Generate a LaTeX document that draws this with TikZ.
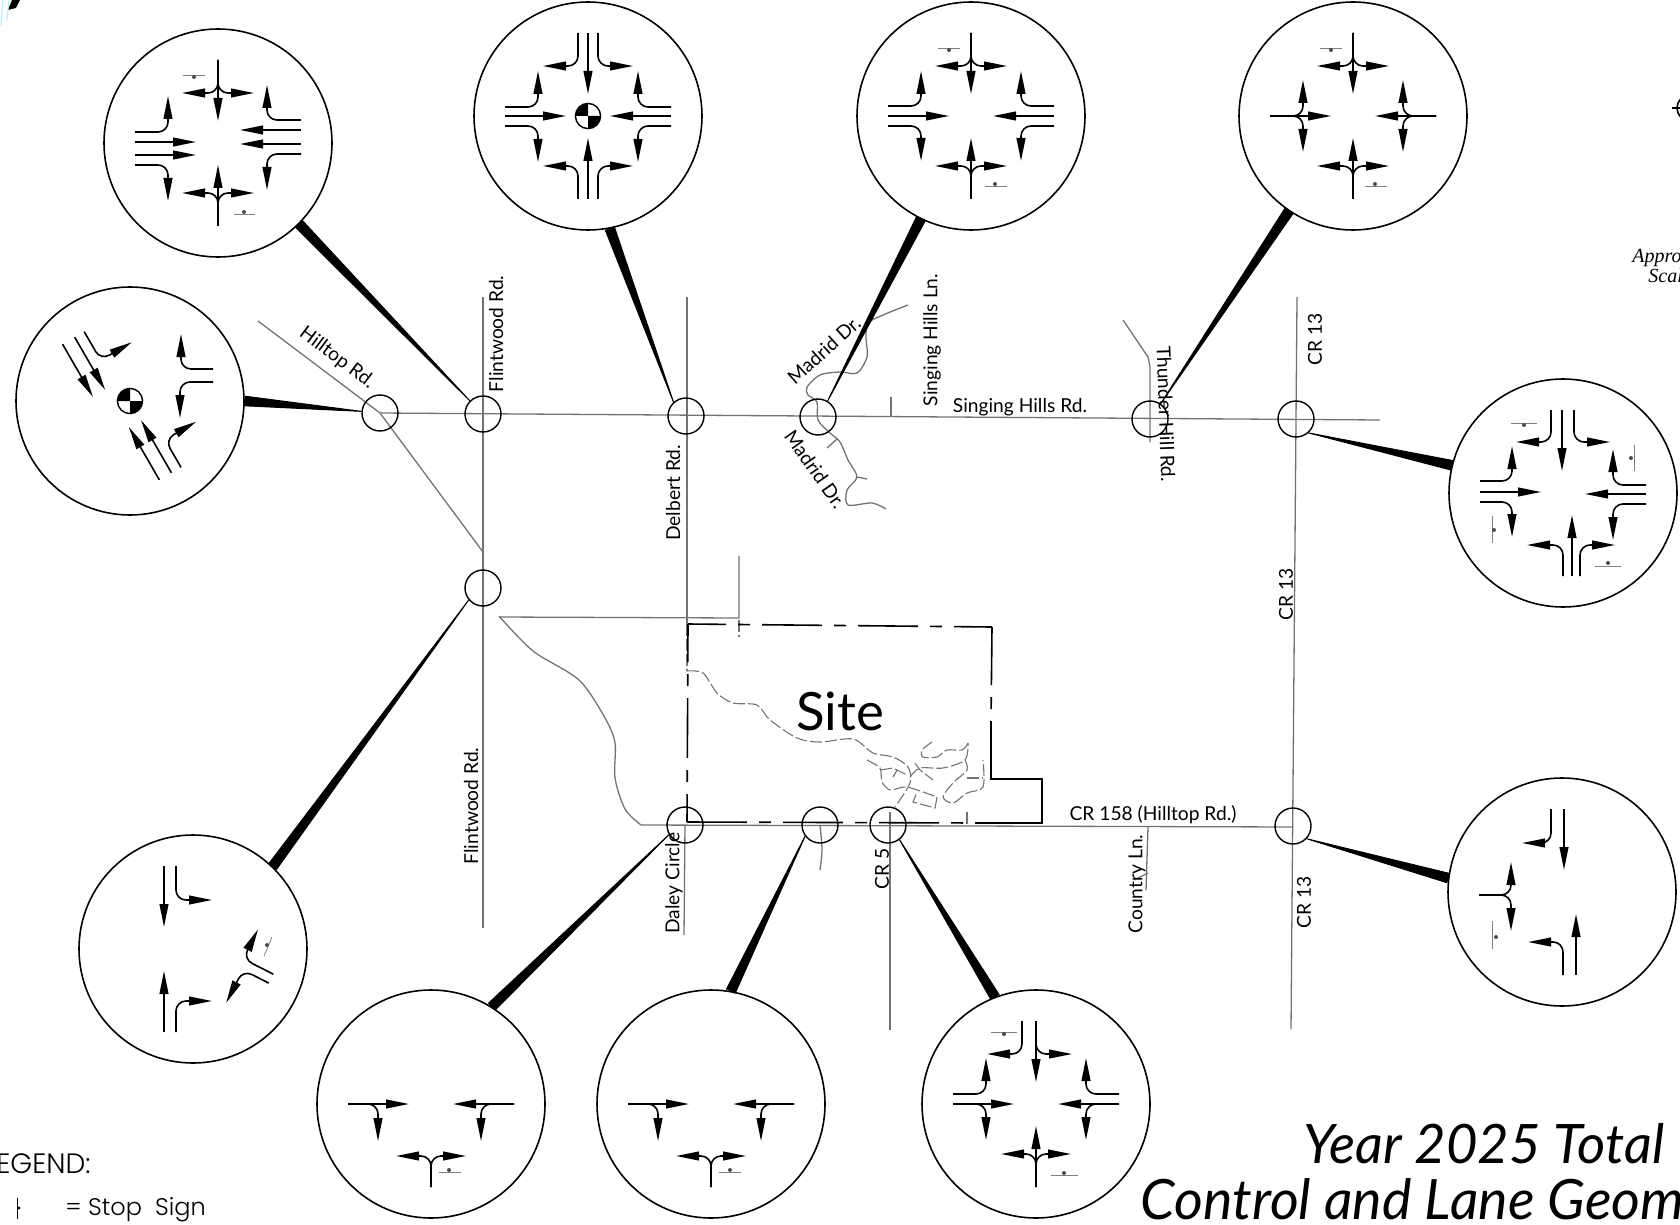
\documentclass[tikz,border=0pt]{standalone}
\usepackage{fontspec}
\setmainfont{Lato}
\newfontfamily\legendfont{Poppins Light}
\newfontfamily\scalefont{Liberation Serif}
\usetikzlibrary{arrows.meta,calc}
\tikzset{
  bubble/.style={circle,draw,line width=.8pt,minimum size=114pt,inner sep=0pt},
  crossing/.style={circle,draw,line width=.7pt,minimum size=18pt,inner sep=0pt},
  lane/.style={->,line width=.8pt,rounded corners=5pt},
  road/.style={black!55,line width=.65pt},
  creek/.style={black!55,line width=.55pt,dash pattern=on 6pt off 1.5pt},
  site/.style={line width=.8pt,dash pattern=on 30pt off 6pt on 6pt off 6pt},
  signbar/.style={gray,line width=.4pt},
  signdot/.style={black!70},
  roadname/.style={inner sep=0pt,font=\fontsize{9.6}{11}\selectfont},
}
\newcommand\thrulane[2]{\draw[lane,rotate=#1] (#2,83) -- (#2,22);}
\newcommand\turnlane[4]{\draw[lane,rotate=#1] (#2,83) |- (#3,#4);}
\newcommand\leader[2]{\filldraw[line width=.5pt] (#1) -- ($(#2)!2.4pt!90:(#1)$) -- ($(#2)!2.4pt!-90:(#1)$) -- cycle;}
\newcommand\cogmark{\draw[fill=white,line width=.7pt] (0pt,0pt) circle (6.3pt);
  \fill (0pt,0pt) -- (-6.3pt,0pt) arc[start angle=180,end angle=90,radius=6.3pt] -- cycle;
  \fill (0pt,0pt) -- (6.3pt,0pt) arc[start angle=0,end angle=-90,radius=6.3pt] -- cycle;}
\begin{document}
\begin{tikzpicture}[x=.5pt,y=-.5pt,>={Triangle[length=11.5pt,width=4.4pt]},line cap=butt]
\useasboundingbox (0,0) rectangle (1680,1225);
\draw[road] (380,413) -- (1380,420);
\draw[road] (258,321) -- (380,413) -- (483,552);
\draw[road] (483,297) -- (483,928);
\draw[road] (687,297) -- (687,624);
\draw[road] (685,825) -- (684,935);
\draw[road] (641,825) -- (1293,827);
\draw[road] (1297,297) -- (1291,1029);
\draw[road] (890,812) -- (890,1030);
\draw[road] (891,397) -- (891,417);
\draw[road] (499,617) -- (739,618) -- (739,556);
\draw[road] plot[smooth,tension=.5] coordinates {(499,616) (533,651) (579,680) (605,718) (615,743) (615,778) (625,809) (641,825)};
\draw[road] plot[smooth,tension=.5] coordinates {(908,305) (883,315) (868,323) (866,337) (867,357) (857,373) (840,372) (820,375) (807,387) (808,395) (817,402) (818,420) (830,433) (840,442) (848,460) (857,477) (847,490) (848,505) (872,503) (886,509)};
\draw[road] (837,439) -- (827,448);
\draw[road] (857,477) -- (867,479);
\draw[road] (1123,320) -- (1148,357) -- (1150,367) -- (1150,442);
\draw[road] plot[smooth] coordinates {(820,825) (822,850) (820,870)};
\draw[road] (1148,827) -- (1146,890);
\draw[road] (1134,880) -- (1148,873);
\draw[creek] (687,624) -- (687,671);
\draw[creek] (739,620) -- (739,637);
\draw[creek] (967,812) -- (967,825);
\draw[creek] plot[smooth,tension=.5] coordinates {(687,671) (703,673) (717,693) (733,703) (757,705) (770,720) (797,738) (820,742) (853,739) (873,753) (893,757) (908,767) (910,783) (895,807)};
\draw[creek] plot[smooth,tension=.4] coordinates {(867,760) (880,768) (882,782) (890,790) (907,787) (937,797)};
\draw[creek] (937,797) -- (935,808) -- (913,802) -- (917,792);
\draw[creek] (880,770) -- (893,768) -- (907,775);
\draw[creek] (893,777) -- (897,770);
\draw[creek] plot[smooth,tension=.5] coordinates {(910,777) (920,768) (943,768) (965,760) (968,743)};
\draw[creek] plot[smooth,tension=.5] coordinates {(968,743) (962,750) (947,750) (937,757) (923,757) (922,750) (932,742)};
\draw[creek] (915,763) -- (920,770) -- (933,780);
\draw[creek] plot[smooth,tension=.5] coordinates {(965,760) (967,770) (953,783) (943,797) (953,803) (967,793) (983,787) (983,760)};
\draw[creek] (967,778) -- (983,778);
\draw[site,dash phase=11pt] (688,624) -- (992,627);
\draw[site,dash phase=11pt] (688,624) -- (687,822);
\draw[site,dash phase=1pt] (992,627) -- (991,721);
\draw[line width=.8pt] (991,721) -- (991,779) -- (1042,779) -- (1042,823) -- (978,823);
\draw[site] (687,822) -- (978,823);
\node[crossing] (xHilltop) at (380,413) {};
\node[crossing] (xFlintNorth) at (483,414) {};
\node[crossing] (xDelbert) at (686,416) {};
\node[crossing] (xMadrid) at (818,417) {};
\node[crossing] (xThunder) at (1150,419) {};
\node[crossing] (xCrNorth) at (1296,419) {};
\node[crossing] (xFlintSouth) at (483,588) {};
\node[crossing] (xDaley) at (685,825) {};
\node[crossing] (xEntry) at (820,825) {};
\node[crossing] (xCrFive) at (888,825) {};
\node[crossing] (xCrSouth) at (1293,826) {};
\node[bubble] (bFlintNorth) at (218,143) {};
\node[bubble] (bDelbert) at (588,116) {};
\node[bubble] (bMadrid) at (971,116) {};
\node[bubble] (bThunder) at (1353,116) {};
\node[bubble] (bHilltop) at (130,401) {};
\node[bubble] (bCrNorth) at (1563,493) {};
\node[bubble] (bFlintSouth) at (193,949) {};
\node[bubble] (bDaley) at (431,1104) {};
\node[bubble] (bEntry) at (711,1104) {};
\node[bubble] (bCrFive) at (1036,1104) {};
\node[bubble] (bCrSouth) at (1562,892) {};
\leader{xFlintNorth.135}{bFlintNorth.-45}
\leader{xDelbert.132}{bDelbert.-79}
\leader{xMadrid.59}{bMadrid.244}
\leader{xThunder.55}{bThunder.236}
\leader{xHilltop.175}{bHilltop.0}
\leader{xCrNorth.-48}{bCrNorth.166}
\leader{xFlintSouth.220}{bFlintSouth.46}
\leader{xDaley.211}{bDaley.58}
\leader{xEntry.217}{bEntry.80}
\leader{xCrFive.-52}{bCrFive.111}
\leader{xCrSouth.-43}{bCrSouth.173}
\begin{scope}[shift={(218,143)}]
\thrulane{0}{0}
\turnlane{0}{0}{-36}{50}
\turnlane{0}{0}{36}{50}
\thrulane{180}{0}
\turnlane{180}{0}{-36}{50}
\turnlane{180}{0}{36}{50}
\turnlane{-90}{-11}{-47}{50}
\thrulane{-90}{-1}
\thrulane{-90}{12}
\turnlane{-90}{22}{58}{50}
\turnlane{90}{23}{58}{49}
\thrulane{90}{13}
\thrulane{90}{-1}
\turnlane{90}{-11}{-47}{49}
\draw[signbar] (-35,-68) -- (-13,-68);
\fill[signdot] (-24,-66) circle (1pt);
\draw[signbar] (16,71) -- (37,71);
\fill[signdot] (26,69) circle (1pt);
\end{scope}
\begin{scope}[shift={(588,116)}]
\turnlane{0}{-10}{-45}{50}
\thrulane{0}{0}
\turnlane{0}{10}{45}{50}
\turnlane{180}{-10}{-45}{50}
\thrulane{180}{0}
\turnlane{180}{10}{45}{50}
\turnlane{-90}{-9}{-45}{50}
\thrulane{-90}{0}
\turnlane{-90}{10}{46}{50}
\turnlane{90}{9}{45}{50}
\thrulane{90}{0}
\turnlane{90}{-10}{-46}{50}
\cogmark
\end{scope}
\begin{scope}[shift={(971,116)}]
\thrulane{0}{0}
\turnlane{0}{0}{-36}{50}
\turnlane{0}{0}{36}{50}
\thrulane{180}{0}
\turnlane{180}{0}{-36}{50}
\turnlane{180}{0}{36}{50}
\turnlane{-90}{-10}{-45}{50}
\thrulane{-90}{0}
\turnlane{-90}{10}{45}{50}
\turnlane{90}{10}{45}{50}
\thrulane{90}{0}
\turnlane{90}{-10}{-45}{50}
\draw[signbar] (-33,-68) -- (-11,-68);
\fill[signdot] (-22,-66) circle (1pt);
\draw[signbar] (14,70) -- (36,70);
\fill[signdot] (24,68) circle (1pt);
\end{scope}
\begin{scope}[shift={(1353,116)}]
\thrulane{0}{0}
\turnlane{0}{0}{-36}{50}
\turnlane{0}{0}{36}{50}
\thrulane{180}{0}
\turnlane{180}{0}{-36}{50}
\turnlane{180}{0}{36}{50}
\thrulane{-90}{0}
\turnlane{-90}{0}{-36}{50}
\turnlane{-90}{0}{36}{50}
\thrulane{90}{0}
\turnlane{90}{0}{-36}{50}
\turnlane{90}{0}{36}{50}
\draw[signbar] (-33,-68) -- (-11,-68);
\fill[signdot] (-22,-66) circle (1pt);
\draw[signbar] (12,70) -- (34,70);
\fill[signdot] (22,68) circle (1pt);
\end{scope}
\begin{scope}[shift={(130,401)}]
\thrulane{-150}{30}
\thrulane{-150}{16}
\turnlane{-150}{5}{-31}{50}
\thrulane{30}{-14}
\thrulane{30}{0}
\turnlane{30}{11}{47}{51}
\turnlane{90}{32}{67}{51}
\turnlane{90}{19}{-17}{50}
\cogmark
\end{scope}
\begin{scope}[shift={(1563,493)}]
\turnlane{180}{12}{47}{51}
\thrulane{180}{1}
\turnlane{180}{-11}{-47}{51}
\turnlane{0}{0}{-36}{52}
\thrulane{0}{9}
\turnlane{0}{17}{52}{52}
\turnlane{-90}{-12}{-47}{51}
\thrulane{-90}{-1}
\turnlane{-90}{9}{44}{51}
\turnlane{90}{8}{44}{50}
\thrulane{90}{-1}
\turnlane{90}{-11}{-47}{50}
\draw[signbar] (-52,-70) -- (-26,-70);
\fill[signdot] (-39,-68) circle (1pt);
\draw[signbar] (71,-48) -- (71,-22);
\fill[signdot] (68,-35) circle (1pt);
\draw[signbar] (-71,23) -- (-71,50);
\fill[signdot] (-69,37) circle (1pt);
\draw[signbar] (32,73) -- (58,73);
\fill[signdot] (45,70) circle (1pt);
\end{scope}
\begin{scope}[shift={(193,949)}]
\thrulane{180}{29}
\turnlane{180}{17}{-19}{49}
\thrulane{0}{-29}
\turnlane{0}{-17}{19}{52}
\turnlane{63}{14}{47}{49}
\turnlane{63}{4}{-33}{54}
\draw[signbar] (79,-12) -- (71,7);
\fill[signdot] (74,-4) circle (1pt);
\end{scope}
\begin{scope}[shift={(431,1104)}]
\thrulane{-90}{0}
\turnlane{-90}{0}{37}{53}
\thrulane{90}{0}
\turnlane{90}{0}{-37}{50}
\turnlane{0}{0}{-35}{52}
\turnlane{0}{0}{35}{52}
\draw[signbar] (8,68) -- (30,68);
\fill[signdot] (18,66) circle (1pt);
\end{scope}
\begin{scope}[shift={(711,1104)}]
\thrulane{-90}{0}
\turnlane{-90}{0}{37}{53}
\thrulane{90}{0}
\turnlane{90}{0}{-37}{50}
\turnlane{0}{0}{-35}{52}
\turnlane{0}{0}{35}{52}
\draw[signbar] (8,68) -- (30,68);
\fill[signdot] (19,66) circle (1pt);
\end{scope}
\begin{scope}[shift={(1036,1104)}]
\turnlane{180}{14}{49}{50}
\thrulane{180}{0}
\turnlane{180}{0}{-36}{50}
\turnlane{-90}{-10}{-46}{50}
\thrulane{-90}{0}
\turnlane{-90}{0}{36}{50}
\turnlane{90}{10}{46}{50}
\thrulane{90}{0}
\turnlane{90}{0}{-36}{50}
\thrulane{0}{0}
\turnlane{0}{0}{-35}{50}
\turnlane{0}{0}{35}{50}
\draw[signbar] (-45,-72) -- (-19,-72);
\fill[signdot] (-32,-70) circle (1pt);
\draw[signbar] (15,71) -- (42,71);
\fill[signdot] (28,69) circle (1pt);
\end{scope}
\begin{scope}[shift={(1562,892)}]
\turnlane{180}{11}{40}{49}
\thrulane{180}{-2}
\turnlane{-90}{3}{-30}{51}
\turnlane{-90}{3}{39}{51}
\turnlane{0}{1}{-34}{50}
\thrulane{0}{14}
\draw[signbar] (-70,29) -- (-70,57);
\fill[signdot] (-66,45) circle (1pt);
\end{scope}
\node[roadname,rotate=-37] (nHilltop) at (337,358) {Hilltop Rd.};
\node[roadname,rotate=90] (nFlintNorth) at (496,334) {Flintwood Rd.};
\node[roadname,rotate=90] (nFlintSouth) at (471,806) {Flintwood Rd.};
\node[roadname,rotate=90] (nDelbert) at (673,493) {Delbert Rd.};
\node[roadname,rotate=42] (nMadridUp) at (824,350) {Madrid Dr.};
\node[roadname,rotate=-55] (nMadridDown) at (815,469) {Madrid Dr.};
\node[roadname,rotate=90] (nSingLane) at (932,340) {Singing Hills Ln.};
\node[roadname] (nSingRoad) at (1020,407) {Singing Hills Rd.};
\node[roadname,rotate=-88] (nThunder) at (1166,414) {Thunder Hill Rd.};
\node[roadname,rotate=90] (nCrTop) at (1315,339) {CR 13};
\node[roadname,rotate=90] (nCrMid) at (1286,594) {CR 13};
\node[roadname,rotate=90] (nCrLow) at (1304,902) {CR 13};
\node[roadname] (nHilltopSouth) at (1153,815) {CR 158 (Hilltop Rd.)};
\node[roadname,rotate=90] (nCountry) at (1137,884) {Country Ln.};
\node[roadname,rotate=90] (nCrFive) at (882,869) {CR 5};
\node[roadname,rotate=90] (nDaley) at (674,883) {Daley Circle};
\node[inner sep=0pt,font=\fontsize{26.4}{30}\selectfont] (nSite) at (840,711) {Site};
\node[anchor=base west,inner sep=0pt,font=\fontsize{27.2}{30}\selectfont\itshape] (nTitleOne) at (1303,1163) {Year 2025 Total};
\node[anchor=base west,inner sep=0pt,font=\fontsize{27.8}{30}\selectfont\itshape] (nTitleTwo) at (1140,1219) {Control and Lane Geom};
\node[anchor=base west,inner sep=0pt,font=\scalefont\fontsize{10}{12}\selectfont\itshape] (nApprox) at (1632,263) {Appro};
\node[anchor=base west,inner sep=0pt,font=\scalefont\fontsize{10}{12}\selectfont\itshape] (nScale) at (1648,283) {Scal};
\node[anchor=base west,inner sep=0pt,font=\legendfont\fontsize{14}{16}\selectfont] (nLegend) at (-4,1173) {EGEND:};
\node[anchor=base west,inner sep=0pt,font=\legendfont\fontsize{12}{14}\selectfont] (nStop) at (65,1215) {= Stop\ \ Sign};
\draw[line width=.5pt] (17,1198) -- (17,1219);
\fill (19,1208) circle (.8pt);
\draw[line width=.8pt] (1690,108) circle (6.5pt);
\draw[line width=.8pt] (1672,108) -- (1680,108);
\fill (8,10) -- (12,0) -- (20,0) -- (16,8) -- cycle;
\draw[cyan!30,line width=.5pt] (1,26) -- (3,0);
\draw[cyan!30,line width=.5pt] (7,20) -- (9,0);
\end{tikzpicture}
\end{document}
